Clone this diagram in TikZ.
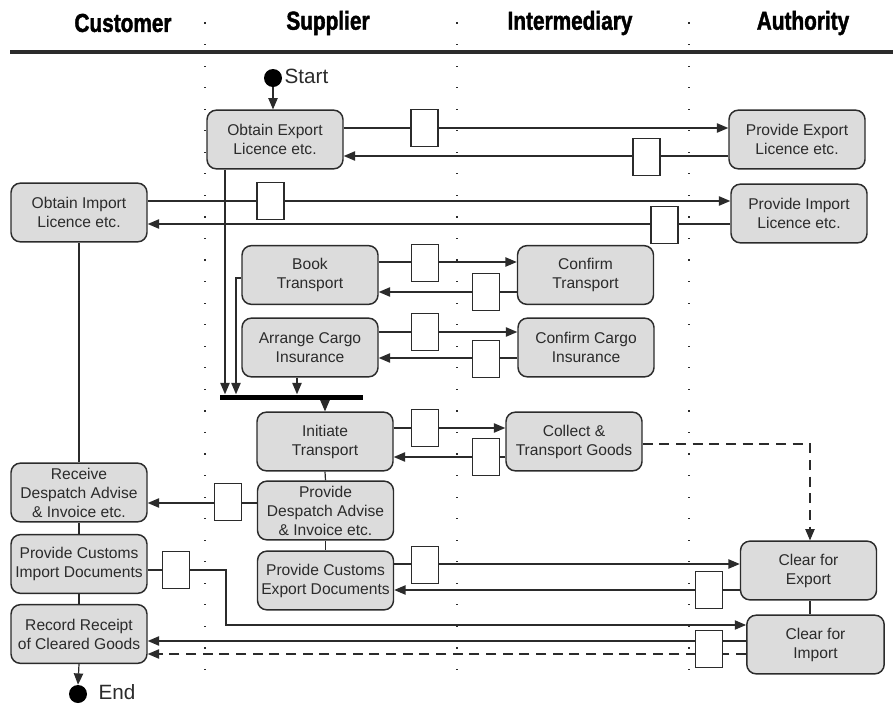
\documentclass[tikz,border=0pt]{standalone}
\usepackage{fontspec}
\setmainfont{Liberation Sans}
\newfontfamily\headfont{Liberation Sans Bold}[FakeStretch=0.8, FakeBold=1.6]
\usetikzlibrary{arrows.meta,calc,backgrounds}
\definecolor{ink}{HTML}{2B2B2B}
\definecolor{boxfill}{HTML}{DCDCDC}
\begin{document}
\begin{tikzpicture}[x=0.75pt,y=-0.75pt,
  act/.style={draw=ink, line width=1.1pt, fill=boxfill, rounded corners=7pt,
    minimum width=102pt, minimum height=44pt, inner sep=2pt, align=center,
    text=ink, font=\fontsize{11.7pt}{14.25pt}\selectfont},
  msg/.style={draw=ink, line width=0.9pt, fill=white, minimum width=20.25pt,
    minimum height=27.75pt, inner sep=0pt},
  lanehead/.style={text=black, font=\headfont\fontsize{19.5pt}{22pt}\selectfont},
  dotnode/.style={circle, fill=black, minimum size=13.5pt, inner sep=0pt},
  term/.style={text=ink, anchor=west, font=\fontsize{15.5pt}{18pt}\selectfont},
  wire/.style={draw=ink, line width=0.9pt},
  flow/.style={wire, -{Triangle[length=8.5pt,width=7pt]}},
  dashline/.style={dash pattern=on 7.5pt off 5pt}
]
\useasboundingbox (0,0) rectangle (893,704);

% lane titles and header rule
\node[lanehead] (hcust) at (123,23) {Customer};
\node[lanehead] (hsupp) at (328,23) {Supplier};
\node[lanehead] (hinter) at (570,23) {Intermediary};
\node[lanehead] (hauth) at (803,23) {Authority};
\draw[line width=2.4pt, draw=ink] (10,52) -- (893,52);

% start / end
\node[dotnode] (start) at (273,78) {};
\node[term] (startlbl) at (280,76) {Start};
\node[dotnode] (end) at (78,694) {};
\node[term] (endlbl) at (94,692) {End};

% activities
\node[act] (obtexp)   at (275,139.5) {Obtain Export\\Licence etc.};
\node[act] (provexp)  at (797,139.5) {Provide Export\\Licence etc.};
\node[act] (obtimp)   at (79,212.5)  {Obtain Import\\Licence etc.};
\node[act] (provimp)  at (799,213.5) {Provide Import\\Licence etc.};
\node[act] (book)     at (310,275)   {Book\\Transport};
\node[act] (conftr)   at (585.5,275) {Confirm\\Transport};
\node[act] (arrange)  at (310,347.5) {Arrange Cargo\\Insurance};
\node[act] (confins)  at (586,347.5) {Confirm Cargo\\Insurance};
\node[act] (initiate) at (325,441.5) {Initiate\\Transport};
\node[act] (collect)  at (574,441.5) {Collect \&\\Transport Goods};
\node[act] (despatch) at (325.5,510.5) {Provide\\Despatch Advise\\\& Invoice etc.};
\node[act] (custexp)  at (325.5,580.5) {Provide Customs\\Export Documents};
\node[act] (receive)  at (79,492.5)  {Receive\\Despatch Advise\\\& Invoice etc.};
\node[act] (custimp)  at (79,564)    {Provide Customs\\Import Documents};
\node[act] (record)   at (79,634)    {Record Receipt\\of Cleared Goods};
\node[act] (clearexp) at (808.5,570.5) {Clear for\\Export};
\node[act, minimum width=103pt] (clearimp) at (815.5,644.5) {Clear for\\Import};

% synchronisation bar
\node[fill=black, minimum width=107.25pt, minimum height=3.75pt, inner sep=0pt] (bar) at (291.5,397) {};

% message boxes
\node[msg] (m1)  at (424.5,128) {};
\node[msg] (m2)  at (646.5,157) {};
\node[msg] (m3)  at (270.5,201) {};
\node[msg] (m4)  at (664.5,225) {};
\node[msg] (m5)  at (425,263)   {};
\node[msg] (m6)  at (486,292)   {};
\node[msg] (m7)  at (425,332)   {};
\node[msg] (m8)  at (486,359)   {};
\node[msg] (m9)  at (425,428)   {};
\node[msg] (m10) at (486,457)   {};
\node[msg] (m11) at (228,502)   {};
\node[msg] (m12) at (425,565)   {};
\node[msg] (m13) at (709,590)   {};
\node[msg] (m14) at (176,570)   {};
\node[msg] (m15) at (709,649)   {};

% routing points
\coordinate (j1) at (225,0);
\coordinate (j2) at (236,278);
\coordinate (j3) at (226,625);
\coordinate (j4) at (810,444);
\coordinate (j5) at (297,0);

\begin{scope}[on background layer]
  % lane separators
  \foreach \lx in {205,457,689}{
    \foreach \k in {0,...,30}{
      \fill[ink] ({\lx-0.6},{23+21.55*\k-0.6}) rectangle +(1.2,1.2);
    }
  }

  \draw[flow] (start.south) -- (start.south |- obtexp.north);

  % licences
  \draw[flow] (obtexp.east |- m1) -- (provexp.west |- m1);
  \draw[flow] (provexp.west |- 0,156) -- (obtexp.east |- 0,156);
  \draw[flow] (obtimp.east |- m3) -- (provimp.west |- m3);
  \draw[flow] (provimp.west |- 0,224) -- (obtimp.east |- 0,224);

  % transport and insurance
  \draw[flow] (book.east |- 0,262) -- (conftr.west |- 0,262);
  \draw[flow] (conftr.west |- m6) -- (book.east |- m6);
  \draw[flow] (arrange.east |- m7) -- (confins.west |- m7);
  \draw[flow] (confins.west |- 0,358) -- (arrange.east |- 0,358);

  % join
  \draw[flow] (obtexp.south -| j1) -- (bar.north -| j1);
  \draw[flow] (book.west |- j2) -| (bar.north -| j2);
  \draw[flow] (arrange.south -| j5) -- (bar.north -| j5);
  \draw[flow] (bar.south -| initiate.north) -- (initiate.north);

  \draw[flow] (initiate.east |- m9) -- (collect.west |- m9);
  \draw[flow] (collect.west |- m10) -- (initiate.east |- m10);

  % supplier chain
  \draw[wire] (initiate.south) -- (despatch.north);
  \draw[wire] (despatch.south) -- (custexp.north);
  \draw[flow] (despatch.west |- 0,503) -- (receive.east |- 0,503);

  % customs
  \draw[flow] (custexp.east |- 0,564) -- (clearexp.west |- 0,564);
  \draw[flow] (clearexp.west |- m13) -- (custexp.east |- m13);
  \draw[flow] (custimp.east |- m14) -| (j3) -- (clearimp.west |- j3);
  \draw[flow] (clearimp.west |- 0,641) -- (record.east |- 0,641);
  \draw[flow, dashline] (clearimp.west |- 0,654) -- (record.east |- 0,654);
  \draw[flow, dashline] (collect.east |- j4) -- (j4) -- (j4 |- clearexp.north);
  \draw[wire] (clearexp.south -| j4) -- (clearimp.north -| j4);

  % customer chain
  \draw[wire] (obtimp.south) -- (receive.north);
  \draw[wire] (receive.south) -- (custimp.north);
  \draw[wire] (custimp.south) -- (record.north);
  \draw[flow] (record.south) -- (end.north);
\end{scope}
\end{tikzpicture}
\end{document}
